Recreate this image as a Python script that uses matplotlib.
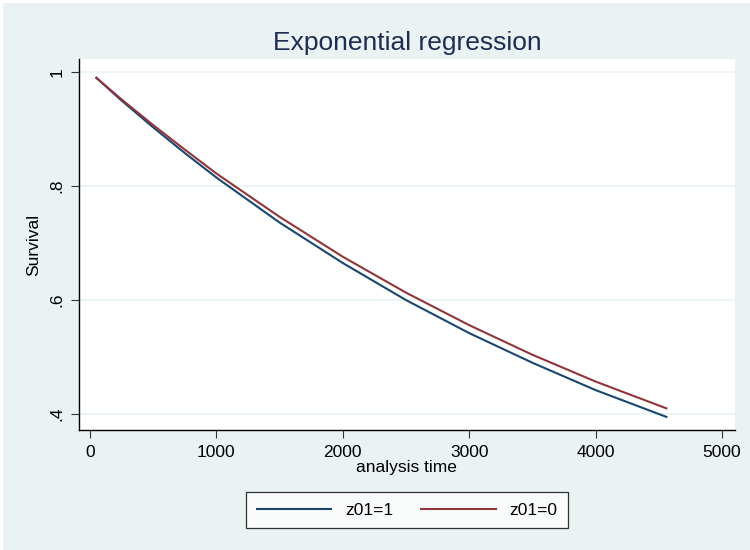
import matplotlib as mpl
mpl.use("Agg")
import matplotlib.pyplot as plt
from matplotlib.patches import Rectangle
from matplotlib.ticker import FixedLocator

# survival estimates
time = [50, 250, 500, 750, 1000, 1500, 2000, 2500, 3000, 3500, 4000, 4560]
surv_z1 = [0.990, 0.950, 0.903, 0.858, 0.815, 0.736, 0.665, 0.600, 0.542, 0.490, 0.442, 0.395]
surv_z0 = [0.990, 0.952, 0.907, 0.864, 0.822, 0.746, 0.676, 0.613, 0.556, 0.504, 0.457, 0.410]

yticks = [0.4, 0.6, 0.8, 1.0]
ytick_labels = [".4", ".6", ".8", "1"]
xticks = [0, 1000, 2000, 3000, 4000, 5000]

navy = "#1a476f"
maroon = "#90353b"
bg = "#eaf2f3"

mpl.rcParams.update({
    "font.family": ["Liberation Sans", "DejaVu Sans"],
    "axes.linewidth": 1.0,
})

fig = plt.figure(figsize=(7.5, 5.5), dpi=100, facecolor="white")
fig.patches.append(Rectangle((3 / 750, 0), 1, 1 - 3 / 550, transform=fig.transFigure,
                             facecolor=bg, edgecolor="none", zorder=-10))

ax = fig.add_axes([0.1047, 0.2182, 0.8753, 0.6745])
ax.set_facecolor("white")

ax.plot(time, surv_z1, color=navy, lw=1.5, label="z01=1")
ax.plot(time, surv_z0, color=maroon, lw=1.5, label="z01=0")

ax.set_xlim(-91, 5103)
ax.set_ylim(0.372, 1.023)
ax.xaxis.set_major_locator(FixedLocator(xticks))
ax.set_xticklabels([str(x) for x in xticks], fontsize=12.5)
ax.yaxis.set_major_locator(FixedLocator(yticks))
ax.set_yticklabels(ytick_labels, fontsize=12.5, rotation=90, va="center")
ax.tick_params(axis="both", direction="out", length=6, width=0.8, color="#333333")
ax.tick_params(axis="x", pad=5)
ax.tick_params(axis="y", pad=4)

ax.grid(axis="y", color=bg, lw=1.2)
ax.set_axisbelow(True)
for side in ("top", "right"):
    ax.spines[side].set_visible(False)

ax.set_xlabel("analysis time", fontsize=12.5, labelpad=0)
ax.set_ylabel("Survival", fontsize=12.5, labelpad=6)

fig.text(0.5427, 1 - 43 / 550, "Exponential regression", fontsize=19,
         color="#1e2d53", ha="center", va="center")

leg = fig.legend(loc="center", bbox_to_anchor=(407 / 750, 1 - 510 / 550),
                 ncol=2, fontsize=12.5, frameon=True, fancybox=False,
                 handlelength=4.3, columnspacing=1.6, handletextpad=0.8,
                 borderpad=0.6, borderaxespad=0)
leg.get_frame().set_edgecolor("black")
leg.get_frame().set_linewidth(0.9)
for line in leg.get_lines():
    line.set_linewidth(1.5)

fig.savefig("out.png", dpi=100, facecolor=fig.get_facecolor())
